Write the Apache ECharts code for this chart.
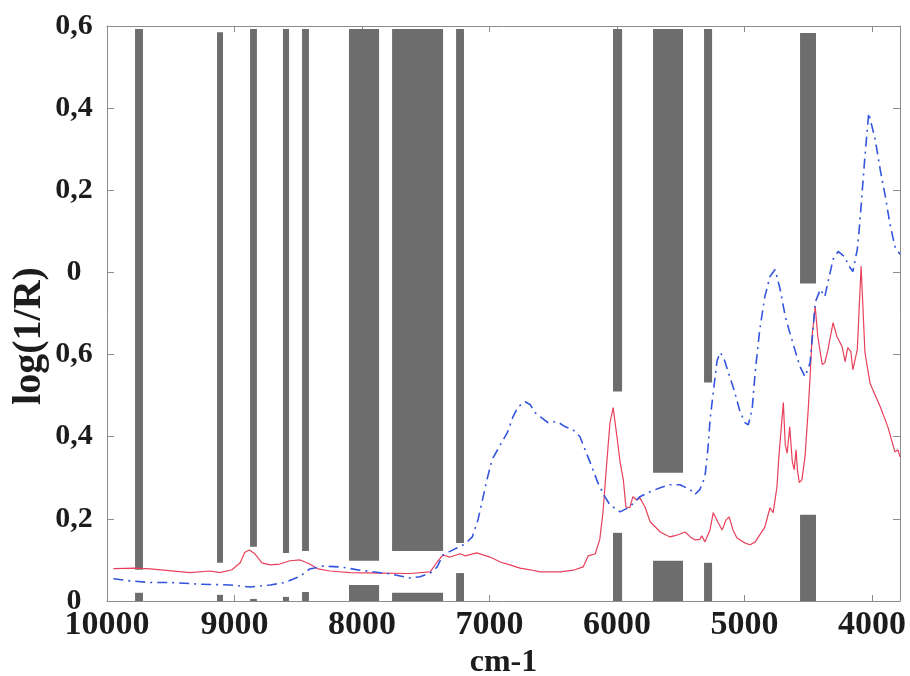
<!DOCTYPE html>
<html>
<head>
<meta charset="utf-8">
<script src="https://cdn.jsdelivr.net/npm/echarts@6/dist/echarts.min.js"></script>
<style>html,body{margin:0;padding:0;background:#fff}#c{width:910px;height:676px}</style>
</head>
<body>
<div id="c"></div>
<script>
// ---- data ----
const xTicks = [10000, 9000, 8000, 7000, 6000, 5000, 4000];
const yTickLabels = ['0', '0,2', '0,4', '0,6', '0', '0,2', '0,4', '0,6'];

const redWn = [9950,9780,9660,9350,9190,9115,9020,8955,8920,8885,8840,8785,8720,8645,8565,8485,8410,8345,8250,8095,7860,7625,7465,7410,7365,7310,7230,7190,7100,6995,6915,6840,6760,6680,6605,6445,6330,6265,6225,6170,6135,6110,6080,6055,6030,6000,5975,5950,5930,5900,5875,5845,5820,5780,5740,5660,5585,5545,5505,5465,5425,5390,5350,5335,5310,5270,5245,5205,5175,5145,5120,5090,5060,4995,4955,4915,4880,4840,4800,4775,4745,4730,4695,4680,4665,4645,4625,4610,4595,4585,4570,4550,4525,4500,4485,4470,4445,4425,4390,4370,4345,4305,4275,4235,4210,4190,4165,4150,4115,4085,4055,4015,3935,3875,3820,3795,3780];
const redVal = [0.079,0.08,0.078,0.069,0.073,0.069,0.076,0.093,0.118,0.124,0.115,0.093,0.088,0.09,0.098,0.1,0.09,0.078,0.073,0.069,0.068,0.067,0.071,0.095,0.112,0.107,0.115,0.11,0.117,0.107,0.095,0.088,0.08,0.076,0.071,0.071,0.076,0.083,0.11,0.115,0.15,0.215,0.337,0.434,0.471,0.4,0.337,0.295,0.229,0.227,0.254,0.246,0.251,0.229,0.193,0.168,0.156,0.159,0.163,0.168,0.156,0.149,0.15,0.159,0.144,0.173,0.215,0.19,0.173,0.197,0.205,0.173,0.154,0.141,0.137,0.144,0.161,0.18,0.227,0.215,0.278,0.351,0.483,0.38,0.36,0.424,0.34,0.32,0.368,0.32,0.288,0.295,0.351,0.466,0.546,0.644,0.717,0.644,0.576,0.58,0.612,0.678,0.644,0.62,0.583,0.617,0.607,0.563,0.612,0.815,0.605,0.53,0.473,0.424,0.363,0.368,0.351];

const blueWn = [9950,9820,9660,9505,9270,9035,8878,8720,8605,8485,8410,8305,8170,8015,7780,7625,7545,7465,7410,7365,7270,7190,7135,7090,7060,7020,6980,6915,6860,6815,6775,6720,6680,6645,6590,6540,6470,6405,6345,6290,6250,6210,6150,6095,6055,5975,5900,5820,5740,5660,5585,5505,5425,5390,5350,5310,5285,5270,5245,5215,5190,5160,5130,5090,5060,5035,4995,4970,4940,4915,4880,4840,4800,4760,4720,4680,4645,4605,4565,4525,4485,4460,4445,4405,4370,4345,4305,4265,4210,4190,4150,4115,4095,4055,4025,3975,3935,3895,3860,3820,3780];
const blueVal = [0.054,0.049,0.045,0.045,0.041,0.039,0.034,0.039,0.045,0.06,0.078,0.085,0.083,0.075,0.066,0.056,0.059,0.068,0.083,0.112,0.127,0.139,0.156,0.198,0.239,0.295,0.344,0.38,0.41,0.449,0.473,0.485,0.478,0.459,0.446,0.434,0.437,0.424,0.417,0.4,0.368,0.337,0.288,0.254,0.234,0.217,0.229,0.254,0.266,0.276,0.283,0.283,0.271,0.259,0.271,0.302,0.376,0.441,0.507,0.585,0.605,0.59,0.56,0.522,0.49,0.461,0.434,0.429,0.466,0.56,0.661,0.741,0.79,0.807,0.759,0.693,0.654,0.612,0.571,0.546,0.58,0.668,0.727,0.759,0.741,0.776,0.832,0.851,0.837,0.82,0.802,0.856,0.922,1.083,1.188,1.124,1.05,0.985,0.92,0.863,0.844];

const bandFrom    = [9780, 9137, 8878, 8620, 8470, 8102, 7764, 7262, 6031, 5717, 5317, 4564];
const bandTo      = [9718, 9090, 8824, 8572, 8416, 7866, 7364, 7200, 5960, 5482, 5254, 4439];
const bandGapLow  = [0.02, 0.015, 0.005, 0.01, 0.022, 0.039, 0.02, 0.068, 0.166, 0.098, 0.093, 0.21];
const bandGapHigh = [0.076, 0.093, 0.132, 0.117, 0.122, 0.098, 0.122, 0.141, 0.51, 0.312, 0.532, 0.773];
const bandTop     = [1.393, 1.385, 1.393, 1.393, 1.393, 1.393, 1.393, 1.393, 1.393, 1.393, 1.393, 1.383];

// ---- chart ----
const FONT = '"Liberation Serif", "Times New Roman", serif';
const TXT = '#1c1c1c';
const AX = '#8c8c8c';
const BAR = '#6d6d6d';

const redData = redWn.map((w, i) => [w, redVal[i]]);
const blueData = blueWn.map((w, i) => [w, blueVal[i]]);
const bandData = bandFrom.map((a, i) => [a, bandTo[i], bandGapLow[i], bandGapHigh[i], bandTop[i]]);

const chart = echarts.init(document.getElementById('c'), null, {renderer: 'canvas'});

chart.setOption({
  animation: false,
  backgroundColor: '#fff',
  grid: {left: 107, right: 10, top: 26, bottom: 75, containLabel: false, outerBoundsMode: 'none'},
  xAxis: [{
    type: 'value', inverse: true, min: 3780, max: 10000, position: 'bottom',
    axisLine: {show: true, onZero: false, lineStyle: {color: AX, width: 1}},
    axisTick: {show: true, inside: true, length: 6, customValues: xTicks, lineStyle: {color: AX}},
    axisLabel: {customValues: xTicks, formatter: v => String(v), margin: 7, fontFamily: FONT, fontWeight: 'bold', fontSize: 34, color: TXT},
    splitLine: {show: false},
    name: 'cm-1', nameLocation: 'middle', nameGap: 43,
    nameTextStyle: {fontFamily: FONT, fontWeight: 'bold', fontSize: 32, color: TXT}
  }, {
    type: 'value', inverse: true, min: 3780, max: 10000, position: 'top',
    axisLine: {show: true, onZero: false, lineStyle: {color: AX, width: 1}},
    axisTick: {show: true, inside: true, length: 6, customValues: xTicks, lineStyle: {color: AX}},
    axisLabel: {show: false},
    splitLine: {show: false}
  }],
  yAxis: [{
    type: 'value', min: 0, max: 1.4, interval: 0.2, position: 'left',
    axisLine: {show: true, onZero: false, lineStyle: {color: AX, width: 1}},
    axisTick: {show: true, inside: true, length: 7, lineStyle: {color: AX}},
    axisLabel: {
      formatter: v => yTickLabels[Math.round(v / 0.2)],
      align: 'center', margin: 33, fontFamily: FONT, fontWeight: 'bold', fontSize: 30, color: TXT
    },
    splitLine: {show: false}
  }, {
    type: 'value', min: 0, max: 1.4, interval: 0.2, position: 'right',
    axisLine: {show: true, onZero: false, lineStyle: {color: AX, width: 1}},
    axisTick: {show: true, inside: true, length: 7, lineStyle: {color: AX}},
    axisLabel: {show: false},
    splitLine: {show: false}
  }],
  graphic: [{
    type: 'text', x: 30, y: 336, rotation: Math.PI / 2,
    style: {
      text: 'log(1/R)', font: 'bold 40px "Liberation Serif"', fill: TXT,
      align: 'center', verticalAlign: 'middle', textAlign: 'center', textVerticalAlign: 'middle'
    }
  }],
  series: [{
    type: 'custom', xAxisIndex: 0, yAxisIndex: 0, z: 1,
    data: bandData,
    encode: {x: [0, 1], y: [2, 3, 4]},
    renderItem: function (params, api) {
      const a = api.value(0), b = api.value(1), lo = api.value(2), hi = api.value(3), top = api.value(4);
      const p0 = api.coord([a, 0]), p1 = api.coord([b, lo]);
      const p2 = api.coord([a, hi]), p3 = api.coord([b, top]);
      const x = Math.min(p0[0], p1[0]);
      const w = Math.abs(p1[0] - p0[0]);
      return {
        type: 'group',
        children: [
          {type: 'rect', shape: {x: x, y: p1[1], width: w, height: p0[1] - p1[1]}, style: {fill: BAR}},
          {type: 'rect', shape: {x: x, y: p3[1], width: w, height: p2[1] - p3[1]}, style: {fill: BAR}}
        ]
      };
    }
  }, {
    type: 'line', name: 'red', data: redData, showSymbol: false, z: 3,
    lineStyle: {color: '#e8405a', width: 1.2}, itemStyle: {color: '#e8405a'}
  }, {
    type: 'line', name: 'blue', data: blueData, showSymbol: false, z: 4,
    lineStyle: {color: '#3355dd', width: 1.6, type: [10, 5, 2, 5]}, itemStyle: {color: '#3355dd'}
  }]
});
</script>
</body>
</html>
